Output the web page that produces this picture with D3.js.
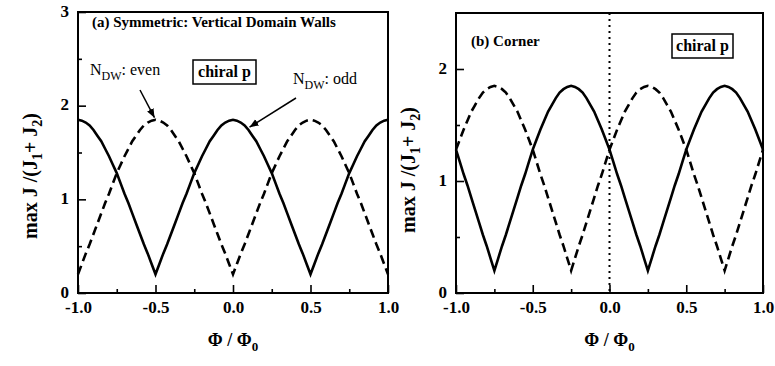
<!DOCTYPE html>
<html>
<head>
<meta charset="utf-8">
<script src="https://cdn.jsdelivr.net/npm/d3@7"></script>
<style>
  body { margin: 0; background: #fff; }
  svg { font-family: "Liberation Serif", "Times New Roman", serif; }
  .tick text { font-family: "Liberation Serif", "Times New Roman", serif; font-weight: bold; font-size: 17px; fill: #000; }
  .tick line { stroke: #000; stroke-width: 1.6; }
</style>
</head>
<body>
<div id="chart"></div>
<script>
// flux grid, -1 .. 1 in steps of 0.025
const phi = d3.range(0, 81).map(i => -1 + i * 0.025);

// (a) symmetric, vertical domain walls
const leftOdd = [
  1.85,1.84,1.82,1.79,1.74,1.68,1.62,1.54,1.46,1.37,1.28,1.17,1.06,0.96,0.85,0.74,0.63,0.52,0.42,0.31,0.20,
  0.31,0.42,0.52,0.63,0.74,0.85,0.96,1.06,1.17,1.28,1.37,1.46,1.54,1.62,1.68,1.74,1.79,1.82,1.84,1.85,
  1.84,1.82,1.79,1.74,1.68,1.62,1.54,1.46,1.37,1.28,1.17,1.06,0.96,0.85,0.74,0.63,0.52,0.42,0.31,0.20,
  0.31,0.42,0.52,0.63,0.74,0.85,0.96,1.06,1.17,1.28,1.37,1.46,1.54,1.62,1.68,1.74,1.79,1.82,1.84,1.85
];
const leftEven = [
  0.20,0.31,0.42,0.52,0.63,0.74,0.85,0.96,1.06,1.17,1.28,1.37,1.46,1.54,1.62,1.68,1.74,1.79,1.82,1.84,1.85,
  1.84,1.82,1.79,1.74,1.68,1.62,1.54,1.46,1.37,1.28,1.17,1.06,0.96,0.85,0.74,0.63,0.52,0.42,0.31,0.20,
  0.31,0.42,0.52,0.63,0.74,0.85,0.96,1.06,1.17,1.28,1.37,1.46,1.54,1.62,1.68,1.74,1.79,1.82,1.84,1.85,
  1.84,1.82,1.79,1.74,1.68,1.62,1.54,1.46,1.37,1.28,1.17,1.06,0.96,0.85,0.74,0.63,0.52,0.42,0.31,0.20
];

// (b) corner
const rightSolid = [
  1.28,1.17,1.06,0.96,0.85,0.74,0.63,0.52,0.42,0.31,0.20,
  0.31,0.42,0.52,0.63,0.74,0.85,0.96,1.06,1.17,1.28,1.37,1.46,1.54,1.62,1.68,1.74,1.79,1.82,1.84,1.85,
  1.84,1.82,1.79,1.74,1.68,1.62,1.54,1.46,1.37,1.28,1.17,1.06,0.96,0.85,0.74,0.63,0.52,0.42,0.31,0.20,
  0.31,0.42,0.52,0.63,0.74,0.85,0.96,1.06,1.17,1.28,1.37,1.46,1.54,1.62,1.68,1.74,1.79,1.82,1.84,1.85,
  1.84,1.82,1.79,1.74,1.68,1.62,1.54,1.46,1.37,1.28
];
const rightDashed = [
  1.28,1.37,1.46,1.54,1.62,1.68,1.74,1.79,1.82,1.84,1.85,
  1.84,1.82,1.79,1.74,1.68,1.62,1.54,1.46,1.37,1.28,1.17,1.06,0.96,0.85,0.74,0.63,0.52,0.42,0.31,0.20,
  0.31,0.42,0.52,0.63,0.74,0.85,0.96,1.06,1.17,1.28,1.37,1.46,1.54,1.62,1.68,1.74,1.79,1.82,1.84,1.85,
  1.84,1.82,1.79,1.74,1.68,1.62,1.54,1.46,1.37,1.28,1.17,1.06,0.96,0.85,0.74,0.63,0.52,0.42,0.31,0.20,
  0.31,0.42,0.52,0.63,0.74,0.85,0.96,1.06,1.17,1.28
];

const xTicks = [-1, -0.5, 0, 0.5, 1],
      xMinor = [-0.75, -0.25, 0.25, 0.75];
const leftYTicks = [0, 1, 2, 3],
      leftYMinor = [0.5, 1.5, 2.5];
const rightYTicks = [0, 1, 2],
      rightYMinor = [0.5, 1.5];

const width = 775, height = 366;

const svg = d3.select("#chart")
    .append("svg")
    .attr("width", width)
    .attr("height", height);

svg.append("defs").append("marker")
    .attr("id", "arrow")
    .attr("viewBox", "0 0 10 10")
    .attr("refX", 10)
    .attr("refY", 5)
    .attr("markerWidth", 9)
    .attr("markerHeight", 9)
    .attr("markerUnits", "userSpaceOnUse")
    .attr("orient", "auto")
  .append("path")
    .attr("d", "M0,1L10,5L0,9Z")
    .attr("fill", "#000");

function panel(box, yMax, yTicks, yMinor, series, labelX, labelY) {
    const x = d3.scaleLinear().domain([-1, 1]).range([box.left, box.right]);
    const y = d3.scaleLinear().domain([0, yMax]).range([box.bottom, box.top]);

    const g = svg.append("g");

    // minor ticks first, then major ones with labels
    g.append("g")
        .attr("transform", `translate(0,${box.bottom})`)
        .call(d3.axisBottom(x).tickValues(xMinor).tickSize(-4).tickFormat(""))
        .call(a => a.select(".domain").remove());
    g.append("g")
        .attr("transform", `translate(0,${box.bottom})`)
        .call(d3.axisBottom(x).tickValues(xTicks).tickSize(-8).tickPadding(8).tickFormat(d => d.toFixed(1)))
        .call(a => a.select(".domain").remove());

    g.append("g")
        .attr("transform", `translate(${box.left},0)`)
        .call(d3.axisLeft(y).tickValues(yMinor).tickSize(-4).tickFormat(""))
        .call(a => a.select(".domain").remove());
    g.append("g")
        .attr("transform", `translate(${box.left},0)`)
        .call(d3.axisLeft(y).tickValues(yTicks).tickSize(-8).tickPadding(9).tickFormat(d3.format("d")))
        .call(a => a.select(".domain").remove())
        .call(a => a.selectAll(".tick text").attr("dy", "0.25em"));

    const line = d3.line()
        .x((d, i) => x(phi[i]))
        .y(d => y(d));

    for (let s of series) {
        g.append("path")
            .datum(s.values)
            .attr("fill", "none")
            .attr("stroke", "#000")
            .attr("stroke-width", 2.6)
            .attr("stroke-dasharray", s.dash)
            .attr("d", line);
    }

    g.append("rect")
        .attr("x", box.left)
        .attr("y", box.top)
        .attr("width", box.right - box.left)
        .attr("height", box.bottom - box.top)
        .attr("fill", "none")
        .attr("stroke", "#000")
        .attr("stroke-width", 2);

    // x label: Φ / Φ0
    const xl = g.append("text")
        .attr("x", (box.left + box.right) / 2)
        .attr("y", 346)
        .attr("text-anchor", "middle")
        .style("font-weight", "bold")
        .style("font-size", "18px")
        .text("Φ / Φ");
    xl.append("tspan").attr("dy", 5).style("font-size", "13px").text("0");

    // y label: max J /(J1+ J2)
    const yl = g.append("text")
        .attr("transform", `translate(${labelX},${labelY}) rotate(-90)`)
        .attr("text-anchor", "middle")
        .style("font-weight", "bold")
        .style("font-size", "20px")
        .text("max J /(J");
    yl.append("tspan").attr("dy", 5).style("font-size", "14px").text("1");
    yl.append("tspan").attr("dy", -5).text("+ J");
    yl.append("tspan").attr("dy", 5).style("font-size", "14px").text("2");
    yl.append("tspan").attr("dy", -5).text(")");

    return { g, x, y };
}

const left = panel({ left: 78, right: 388, top: 12, bottom: 293 }, 3, leftYTicks, leftYMinor,
    [{ values: leftOdd, dash: null }, { values: leftEven, dash: "9,5" }], 37, 176);

const right = panel({ left: 456, right: 763, top: 13, bottom: 293 }, 2.5, rightYTicks, rightYMinor,
    [{ values: rightSolid, dash: null }, { values: rightDashed, dash: "9,5" }], 415, 170);

// dotted line at zero flux in (b)
right.g.append("line")
    .attr("x1", right.x(0)).attr("x2", right.x(0))
    .attr("y1", right.y(2.5)).attr("y2", right.y(0))
    .attr("stroke", "#000")
    .attr("stroke-width", 2)
    .attr("stroke-dasharray", "2,4");

// annotations, panel (a)
left.g.append("text")
    .attr("x", 92).attr("y", 27)
    .style("font-size", "15px")
    .style("font-weight", "bold")
    .text("(a) Symmetric: Vertical Domain Walls");

function ndw(g, xPos, yPos, word) {
    const t = g.append("text")
        .attr("x", xPos).attr("y", yPos)
        .style("font-size", "16px")
        .text("N");
    t.append("tspan").attr("dy", 5).style("font-size", "12px").text("DW");
    t.append("tspan").attr("dy", -5).text(": " + word);
}
ndw(left.g, 90, 75, "even");
ndw(left.g, 293, 84, "odd");

left.g.append("line")
    .attr("x1", 140).attr("y1", 90)
    .attr("x2", left.x(-0.5) - 1).attr("y2", left.y(1.85) - 2)
    .attr("stroke", "#000").attr("stroke-width", 1.5)
    .attr("marker-end", "url(#arrow)");
left.g.append("line")
    .attr("x1", 296).attr("y1", 98)
    .attr("x2", left.x(0.1) + 1).attr("y2", left.y(1.76) - 1)
    .attr("stroke", "#000").attr("stroke-width", 1.5)
    .attr("marker-end", "url(#arrow)");

function chiralBox(g, bx, by, bw, bh) {
    g.append("rect")
        .attr("x", bx).attr("y", by)
        .attr("width", bw).attr("height", bh)
        .attr("fill", "#fff")
        .attr("stroke", "#000")
        .attr("stroke-width", 1.5);
    g.append("text")
        .attr("x", bx + bw / 2).attr("y", by + bh / 2 + 5)
        .attr("text-anchor", "middle")
        .style("font-size", "16px")
        .style("font-weight", "bold")
        .text("chiral p");
}
chiralBox(left.g, 193, 60, 63, 24);

// annotations, panel (b)
right.g.append("text")
    .attr("x", 471).attr("y", 46)
    .style("font-size", "15px")
    .style("font-weight", "bold")
    .text("(b) Corner");
chiralBox(right.g, 672, 34, 61, 24);
</script>
</body>
</html>
